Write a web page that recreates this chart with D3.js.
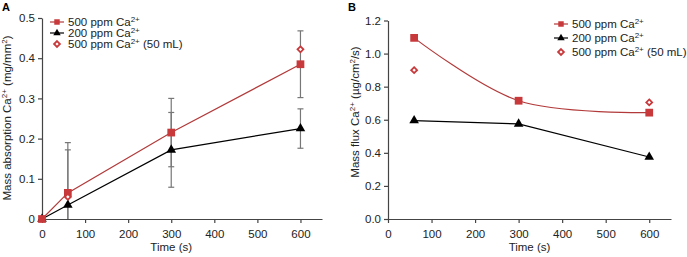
<!DOCTYPE html>
<html>
<head>
<meta charset="utf-8">
<script src="https://cdn.jsdelivr.net/npm/d3@7"></script>
<style>
  body { margin: 0; background: #fff; }
  svg { font-family: "Liberation Sans", Arial, sans-serif; }
</style>
</head>
<body>
<svg id="chart" width="687" height="257"></svg>
<script>
// panel A data
const timeA = [0, 60, 300, 600];
const absorb500 = [0, 0.065, 0.215, 0.385];
const absorb500Err = [0, 0.125, 0.085, 0.083];
const absorb200 = [0, 0.035, 0.172, 0.225];
const absorb200Err = [0, 0.137, 0.093, 0.049];
const time50mL = [60, 600];
const absorb50mL = [0.055, 0.422];

// panel B data
const timeB = [60, 300, 600];
const flux500 = [1.095, 0.715, 0.643];
const flux200 = [0.595, 0.575, 0.375];
const flux50mL = [0.90, 0.705];

const ticksX = [0, 100, 200, 300, 400, 500, 600];
const ticksA = [0, 0.1, 0.2, 0.3, 0.4, 0.5];
const ticksB = [0, 0.2, 0.4, 0.6, 0.8, 1.0, 1.2];

const red = "#c8393b";
const redLine = "#b23a3a";
const axisCol = "#444";
const errCol = "#777";

const svg = d3.select("#chart");

function drawAxes(x, y, yTicks, yFmt) {
  const gx = svg.append("g")
     .attr("transform", `translate(0,${y(0)})`)
     .call(d3.axisBottom(x).tickValues(ticksX).tickSize(4).tickSizeOuter(0));
  const gy = svg.append("g")
     .attr("transform", `translate(${x(0)},0)`)
     .call(d3.axisLeft(y).tickValues(yTicks).tickFormat(yFmt).tickSize(4).tickSizeOuter(0));
  [gx, gy].forEach(g => {
    g.selectAll("path, line").attr("stroke", axisCol).attr("stroke-width", 1.2);
    g.selectAll("text").attr("fill", "#222").style("font-size", "11.5px");
  });
  gx.selectAll("text").attr("dy", "1.05em");
}

function caLabel(sel, pre, post) {
  sel.append("tspan").text(pre + "Ca");
  sel.append("tspan").text("2+").attr("baseline-shift", "super").style("font-size", "8px");
  if (post) sel.append("tspan").text(post);
}

function openMark(sel) {
  sel.attr("d", d3.symbol(d3.symbolDiamond2, 22)())
     .attr("fill", "#fff").attr("stroke", red).attr("stroke-width", 1.8);
}

function legend(x0, y0, dy) {
  const items = [
    { t: "line", sym: d3.symbolSquare, col: red, lc: redLine, post: "" },
    { t: "line", sym: d3.symbolTriangle, col: "#000", lc: "#000", post: "" },
    { t: "open", post: " (50 mL)" }
  ];
  items.forEach((it, i) => {
    const yy = y0 + i * dy;
    const g = svg.append("g");
    if (it.t === "line") {
      g.append("line").attr("x1", x0).attr("x2", x0 + 14).attr("y1", yy).attr("y2", yy)
       .attr("stroke", it.lc).attr("stroke-width", 1.2);
      g.append("path").attr("d", d3.symbol(it.sym, it.sym === d3.symbolSquare ? 30 : 24)())
       .attr("transform", `translate(${x0 + 7},${yy})`).attr("fill", it.col);
    } else {
      g.append("path").attr("transform", `translate(${x0 + 7},${yy})`).call(openMark);
    }
    const t = g.append("text").attr("x", x0 + 18).attr("y", yy + 4)
      .style("font-size", "11.5px").attr("fill", "#222");
    caLabel(t, i === 1 ? "200 ppm " : "500 ppm ", it.post);
  });
}

// ---------- Panel A ----------
const xA = d3.scaleLinear().domain([0, 650]).range([42, 322]);
const yA = d3.scaleLinear().domain([0, 0.5]).range([219, 18]);

drawAxes(xA, yA, ticksA, d => d === 0 ? "0" : d3.format(".1f")(d));

const errA = [
  { v: absorb500, e: absorb500Err },
  { v: absorb200, e: absorb200Err }
];
errA.forEach(s => {
  timeA.forEach((t, i) => {
    if (!s.e[i]) return;
    const lo = Math.max(0, s.v[i] - s.e[i]), hi = s.v[i] + s.e[i];
    const g = svg.append("g").attr("stroke", errCol).attr("stroke-width", 1.2);
    g.append("line").attr("x1", xA(t)).attr("x2", xA(t)).attr("y1", yA(lo)).attr("y2", yA(hi));
    g.append("line").attr("x1", xA(t) - 3).attr("x2", xA(t) + 3).attr("y1", yA(hi)).attr("y2", yA(hi));
    if (lo > 0) g.append("line").attr("x1", xA(t) - 3).attr("x2", xA(t) + 3).attr("y1", yA(lo)).attr("y2", yA(lo));
  });
});

const lineA = d3.line().x(d => xA(d[0])).y(d => yA(d[1]));
svg.append("path").datum(d3.zip(timeA, absorb200)).attr("d", lineA)
   .attr("fill", "none").attr("stroke", "#000").attr("stroke-width", 1.2);
svg.append("path").datum(d3.zip(timeA, absorb500)).attr("d", lineA)
   .attr("fill", "none").attr("stroke", redLine).attr("stroke-width", 1.2);

svg.selectAll(".triA").data(d3.zip(timeA, absorb200)).enter().append("path")
   .attr("d", d3.symbol(d3.symbolTriangle, 40)())
   .attr("transform", d => `translate(${xA(d[0])},${yA(d[1])})`).attr("fill", "#000");
svg.selectAll(".sqA").data(d3.zip(timeA, absorb500)).enter().append("path")
   .attr("d", d3.symbol(d3.symbolSquare, 60)())
   .attr("transform", d => `translate(${xA(d[0])},${yA(d[1])})`).attr("fill", red);
svg.selectAll(".diA").data(d3.zip(time50mL, absorb50mL)).enter().append("path")
   .attr("transform", d => `translate(${xA(d[0])},${yA(d[1])})`).call(openMark);

legend(50, 22, 11);

svg.append("text").attr("transform", `translate(11,118) rotate(-90)`)
   .attr("text-anchor", "middle").style("font-size", "11.5px").attr("fill", "#222")
   .call(t => caLabel(t, "Mass absorption ", " (mg/mm"))
   .call(t => { t.append("tspan").text("2").attr("baseline-shift", "super").style("font-size", "8px");
                t.append("tspan").text(")"); });

svg.append("text").attr("x", xA(300)).attr("y", 251).attr("text-anchor", "middle")
   .style("font-size", "11.5px").attr("fill", "#222").text("Time (s)");
svg.append("text").attr("x", 2).attr("y", 11).style("font-size", "11px")
   .style("font-weight", "bold").text("A");

// ---------- Panel B ----------
const xB = d3.scaleLinear().domain([0, 650]).range([388, 671]);
const yB = d3.scaleLinear().domain([0, 1.2]).range([219, 20.5]);

drawAxes(xB, yB, ticksB, d3.format(".1f"));

svg.append("path").datum(d3.zip(timeB, flux500))
   .attr("d", d3.line().curve(d3.curveCatmullRom).x(d => xB(d[0])).y(d => yB(d[1])))
   .attr("fill", "none").attr("stroke", redLine).attr("stroke-width", 1.2);
svg.append("path").datum(d3.zip(timeB, flux200))
   .attr("d", d3.line().x(d => xB(d[0])).y(d => yB(d[1])))
   .attr("fill", "none").attr("stroke", "#000").attr("stroke-width", 1.2);

svg.selectAll(".sqB").data(d3.zip(timeB, flux500)).enter().append("path")
   .attr("d", d3.symbol(d3.symbolSquare, 60)())
   .attr("transform", d => `translate(${xB(d[0])},${yB(d[1])})`).attr("fill", red);
svg.selectAll(".triB").data(d3.zip(timeB, flux200)).enter().append("path")
   .attr("d", d3.symbol(d3.symbolTriangle, 40)())
   .attr("transform", d => `translate(${xB(d[0])},${yB(d[1])})`).attr("fill", "#000");
svg.selectAll(".diB").data(d3.zip([60, 600], flux50mL)).enter().append("path")
   .attr("transform", d => `translate(${xB(d[0])},${yB(d[1])})`).call(openMark);

legend(554, 24, 14);

svg.append("text").attr("transform", `translate(359,112) rotate(-90)`)
   .attr("text-anchor", "middle").style("font-size", "11.5px").attr("fill", "#222")
   .call(t => caLabel(t, "Mass flux ", " (µg/cm"))
   .call(t => { t.append("tspan").text("2").attr("baseline-shift", "super").style("font-size", "8px");
                t.append("tspan").text("/s)"); });

svg.append("text").attr("x", xB(325)).attr("y", 251).attr("text-anchor", "middle")
   .style("font-size", "11.5px").attr("fill", "#222").text("Time (s)");
svg.append("text").attr("x", 348).attr("y", 11).style("font-size", "11px")
   .style("font-weight", "bold").text("B");
</script>
</body>
</html>
